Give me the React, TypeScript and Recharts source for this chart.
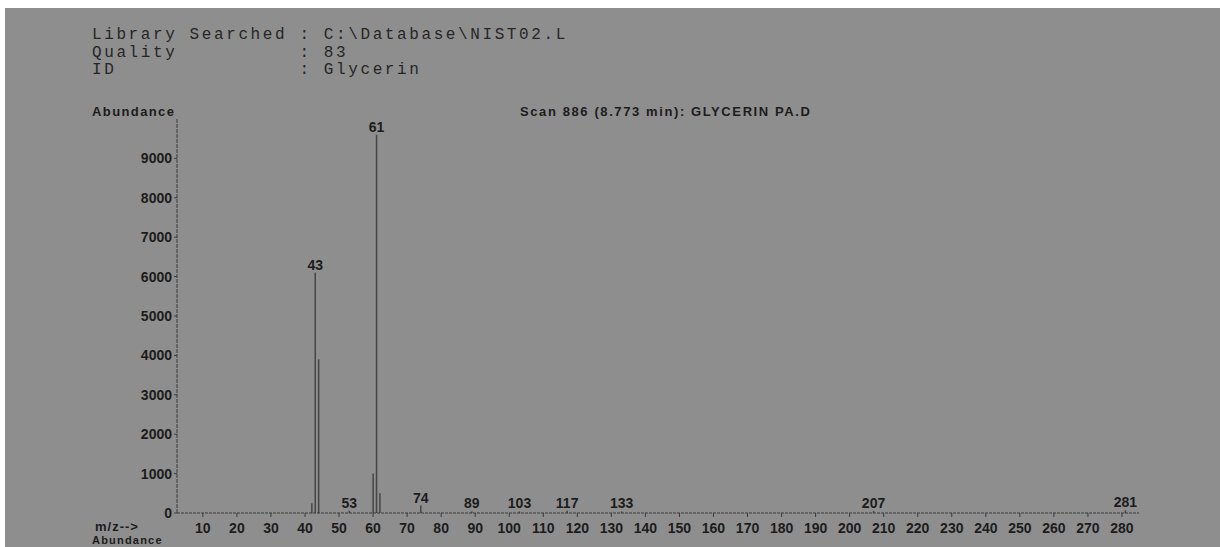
import { Bar, ComposedChart, LabelList, XAxis, YAxis } from "recharts";

// peaks (m/z, abundance)
const mzValues = [42, 43, 44, 53, 60, 61, 62, 74, 89, 103, 117, 133, 207, 281];
const abundances = [250, 6100, 3900, 60, 1000, 9600, 500, 190, 40, 40, 60, 40, 50, 70];
const labeledPeaks = [43, 53, 61, 74, 89, 103, 117, 133, 207, 281];

const yTicks = [0, 1000, 2000, 3000, 4000, 5000, 6000, 7000, 8000, 9000];
const xTicks = [10, 20, 30, 40, 50, 60, 70, 80, 90, 100, 110, 120, 130, 140, 150, 160, 170, 180, 190, 200, 210, 220, 230, 240, 250, 260, 270, 280];

const headerLines = [
  "Library Searched : C:\\Database\\NIST02.L",
  "Quality          : 83",
  "ID               : Glycerin",
];
const scanTitle = "Scan 886 (8.773 min): GLYCERIN PA.D";

const ink = "#1c1c1c";
const sans = "'Liberation Sans', Arial, sans-serif";

const PeakLabel = (props: any) => {
  const { x, y, width, value } = props;
  if (!value) return null;
  return (
    <text
      x={x + width / 2}
      y={y - 3}
      textAnchor="middle"
      fontFamily={sans}
      fontWeight="bold"
      fontSize={14}
      fill={ink}
    >
      {value}
    </text>
  );
};

export default function App() {
  const data = mzValues.map((mz, i) => ({
    mz,
    abundance: abundances[i],
    label: labeledPeaks.includes(mz) ? String(mz) : "",
  }));

  const tickStyle = {
    fontFamily: sans,
    fontWeight: "bold",
    fontSize: 14,
    fill: ink,
  };

  return (
    <div style={{ position: "fixed", left: 0, top: 0, width: 1220, height: 547, background: "#ffffff", overflow: "hidden" }}>
      <div style={{ position: "absolute", left: 5, top: 8, right: 0, bottom: 0, background: "#8e8e8e" }} />

      <div
        style={{
          position: "absolute",
          left: 92,
          top: 27,
          fontFamily: "'Liberation Mono', 'DejaVu Sans Mono', monospace",
          fontSize: 16,
          letterSpacing: 2.6,
          lineHeight: "17.5px",
          color: "#262626",
          whiteSpace: "pre",
        }}
      >
        {headerLines.map((line) => (
          <div key={line}>{line}</div>
        ))}
      </div>

      <div style={{ position: "absolute", left: 92, top: 104, fontFamily: sans, fontWeight: "bold", fontSize: 13, letterSpacing: 1.4, color: ink }}>
        Abundance
      </div>
      <div style={{ position: "absolute", left: 520, top: 104, fontFamily: sans, fontWeight: "bold", fontSize: 13, letterSpacing: 1.6, color: ink }}>
        {scanTitle}
      </div>
      <div style={{ position: "absolute", left: 95, top: 519, fontFamily: sans, fontWeight: "bold", fontSize: 13, letterSpacing: 1, color: ink, lineHeight: "15px" }}>
        m/z--&gt;
      </div>
      <div style={{ position: "absolute", left: 92, top: 534, fontFamily: sans, fontWeight: "bold", fontSize: 11, letterSpacing: 1.2, color: ink, lineHeight: "12px" }}>
        Abundance
      </div>

      <div style={{ position: "absolute", left: 0, top: 0 }}>
        <ComposedChart
          width={1220}
          height={547}
          data={data}
          margin={{ top: 119, right: 81, bottom: 4, left: 117 }}
        >
          <XAxis
            dataKey="mz"
            type="number"
            domain={[2.4, 285]}
            ticks={xTicks}
            allowDataOverflow
            height={30}
            tickSize={4}
            tickMargin={6}
            interval={0}
            stroke="#3a3a3a"
            axisLine={{ stroke: "#3a3a3a", strokeDasharray: "3 1" }}
            tick={tickStyle}
          />
          <YAxis
            type="number"
            domain={[0, 10000]}
            ticks={yTicks}
            width={60}
            tickSize={3}
            tickMargin={2}
            interval={0}
            stroke="#3a3a3a"
            axisLine={{ stroke: "#3a3a3a", strokeDasharray: "4 1" }}
            tick={tickStyle}
          />
          <Bar dataKey="abundance" barSize={1.5} fill="#454545" isAnimationActive={false}>
            <LabelList dataKey="label" content={PeakLabel} />
          </Bar>
        </ComposedChart>
      </div>
    </div>
  );
}
